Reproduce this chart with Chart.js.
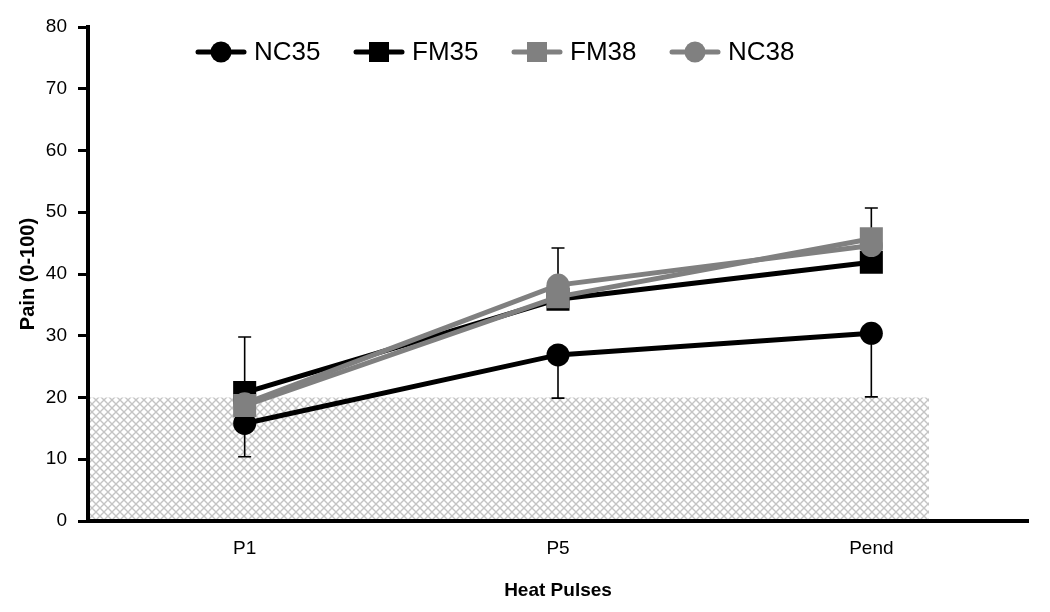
<!DOCTYPE html>
<html>
<head>
<meta charset="utf-8">
<script src="https://cdn.jsdelivr.net/npm/chart.js@4"></script>
<style>
html,body{margin:0;padding:0;background:#fff;}
#wrap{width:1050px;height:612px;position:relative;}
</style>
</head>
<body>
<div id="wrap"><canvas id="c" width="1050" height="612"></canvas></div>
<script>
// ---- data ----
const categories = ['P1', 'P5', 'Pend'];
const seriesNames = ['NC35', 'FM35', 'FM38', 'NC38'];
const nc35 = [15.8, 26.9, 30.4];
const fm35 = [20.8, 35.9, 41.9];
const fm38 = [18.7, 36.3, 45.7];
const nc38 = [19.0, 38.2, 44.6];
// one-sided error bars (shown in the figure)
const nc35ErrDown = [5.4, 7.0, 10.3];
const fm35ErrUp = [9.0, 0, 0];
const fm38ErrUp = [0, 0, 5.0];
const nc38ErrUp = [0, 6.0, 0];
const yTicks = [0, 10, 20, 30, 40, 50, 60, 70, 80];
const shadeBand = [0, 20];

const BLACK = '#000000', GRAY = '#808080';

const hatch = (() => {
  const n = 8;
  const t = document.createElement('canvas');
  t.width = n; t.height = n;
  const g = t.getContext('2d');
  g.fillStyle = '#ffffff'; g.fillRect(0,0,n,n);
  g.strokeStyle = '#c4c4c4'; g.lineWidth = 1.4;
  g.beginPath();
  g.moveTo(-1,-1); g.lineTo(n+1,n+1);
  g.moveTo(n+1,-1); g.lineTo(-1,n+1);
  g.stroke();
  return t;
})();

const shadePlugin = {
  id: 'shade',
  beforeDatasetsDraw(chart) {
    const {ctx, chartArea, scales} = chart;
    const x0 = chartArea.left + 2;
    const x1 = scales.x.getPixelForValue(2) + 0.184 * (scales.x.getPixelForValue(1) - scales.x.getPixelForValue(0));
    const yTop = scales.y.getPixelForValue(shadeBand[1]);
    const yBot = scales.y.getPixelForValue(shadeBand[0]) - 2;
    ctx.save();
    ctx.fillStyle = ctx.createPattern(hatch, 'repeat');
    ctx.fillRect(x0, yTop, x1 - x0, yBot - yTop);
    ctx.restore();
  }
};

const errPlugin = {
  id: 'errbars',
  beforeDatasetsDraw(chart) {
    const {ctx, scales} = chart;
    ctx.save();
    ctx.strokeStyle = '#000';
    ctx.lineWidth = 1.6;
    chart.data.datasets.forEach((ds, di) => {
      const meta = chart.getDatasetMeta(di);
      ds.values.forEach((v, i) => {
        const x = meta.data[i].x;
        const y0 = scales.y.getPixelForValue(v);
        const up = ds.errUp ? ds.errUp[i] : 0;
        const dn = ds.errDown ? ds.errDown[i] : 0;
        [[up, 1], [dn, -1]].forEach(([e, s]) => {
          if (!e) return;
          const y1 = scales.y.getPixelForValue(v + s * e);
          ctx.beginPath();
          ctx.moveTo(x, y0); ctx.lineTo(x, y1);
          ctx.moveTo(x - 6.5, y1); ctx.lineTo(x + 6.5, y1);
          ctx.stroke();
        });
      });
    });
    ctx.restore();
  }
};

const legendPlugin = {
  id: 'customLegend',
  afterDraw(chart) {
    const {ctx} = chart;
    const items = [
      {name: seriesNames[0], color: BLACK, style: 'circle'},
      {name: seriesNames[1], color: BLACK, style: 'rect'},
      {name: seriesNames[2], color: GRAY, style: 'rect'},
      {name: seriesNames[3], color: GRAY, style: 'circle'}
    ];
    const startX = 196, step = 158, y = 52, lineLen = 50;
    ctx.save();
    items.forEach((it, k) => {
      const x = startX + k * step;
      ctx.strokeStyle = it.color; ctx.fillStyle = it.color;
      ctx.lineWidth = 5; ctx.lineCap = 'round';
      ctx.beginPath(); ctx.moveTo(x + 2, y); ctx.lineTo(x + lineLen - 2, y); ctx.stroke();
      const cx = x + lineLen / 2;
      if (it.style === 'circle') {
        ctx.beginPath(); ctx.arc(cx, y, 10.5, 0, Math.PI * 2); ctx.fill();
      } else {
        ctx.fillRect(cx - 10, y - 10, 20, 20);
      }
      ctx.fillStyle = '#000';
      ctx.font = '26px "Liberation Sans", Arial, sans-serif';
      ctx.textBaseline = 'middle';
      ctx.textAlign = 'left';
      ctx.fillText(it.name, x + lineLen + 8, y + 1);
    });
    ctx.restore();
  }
};

function mkDs(label, values, color, style, radius, order, errUp, errDown) {
  return {
    label, data: values, values, errUp, errDown, order,
    borderColor: color, backgroundColor: color,
    borderWidth: 5, pointStyle: style, pointRadius: radius, pointHoverRadius: radius,
    pointBorderWidth: 0, pointBackgroundColor: color, tension: 0, fill: false
  };
}

new Chart(document.getElementById('c'), {
  type: 'line',
  data: {
    labels: categories,
    datasets: [
      mkDs(seriesNames[0], nc35, BLACK, 'circle', 11.5, 3, null, nc35ErrDown),
      mkDs(seriesNames[1], fm35, BLACK, 'rect', 16.3, 2, fm35ErrUp, null),
      mkDs(seriesNames[2], fm38, GRAY, 'rect', 16.3, 1, fm38ErrUp, null),
      mkDs(seriesNames[3], nc38, GRAY, 'circle', 11.5, 0, nc38ErrUp, null)
    ]
  },
  options: {
    responsive: false,
    animation: false,
    events: [],
    layout: {padding: {top: 27, right: 22, left: 0, bottom: 0}},
    plugins: {legend: {display: false}, tooltip: {enabled: false}},
    scales: {
      x: {
        type: 'category',
        offset: true,
        grid: {display: true, drawOnChartArea: false, drawTicks: false, color: 'rgba(0,0,0,0)'},
        border: {display: true, color: '#000', width: 4},
        ticks: {color: '#000', padding: 16, font: {family: '"Liberation Sans", Arial, sans-serif', size: 19}},
        title: {display: true, text: 'Heat Pulses', color: '#000', padding: {top: 0, bottom: 10},
                font: {family: '"Liberation Sans", Arial, sans-serif', size: 19, weight: 'bold'}},
        afterFit(s) { s.height = 91; }
      },
      y: {
        min: 0, max: 80,
        afterBuildTicks(s) { s.ticks = yTicks.map(v => ({value: v})); },
        grid: {display: true, drawOnChartArea: false, drawTicks: true, tickLength: 10, tickWidth: 3, color: '#000'},
        border: {display: true, color: '#000', width: 4},
        ticks: {color: '#000', padding: 11, font: {family: '"Liberation Sans", Arial, sans-serif', size: 19}},
        title: {display: true, text: 'Pain (0-100)', color: '#000', padding: {top: 16, bottom: 0},
                font: {family: '"Liberation Sans", Arial, sans-serif', size: 20, weight: 'bold'}},
        afterFit(s) { s.width = 88; }
      }
    }
  },
  plugins: [shadePlugin, errPlugin, legendPlugin]
});
</script>
</body>
</html>
